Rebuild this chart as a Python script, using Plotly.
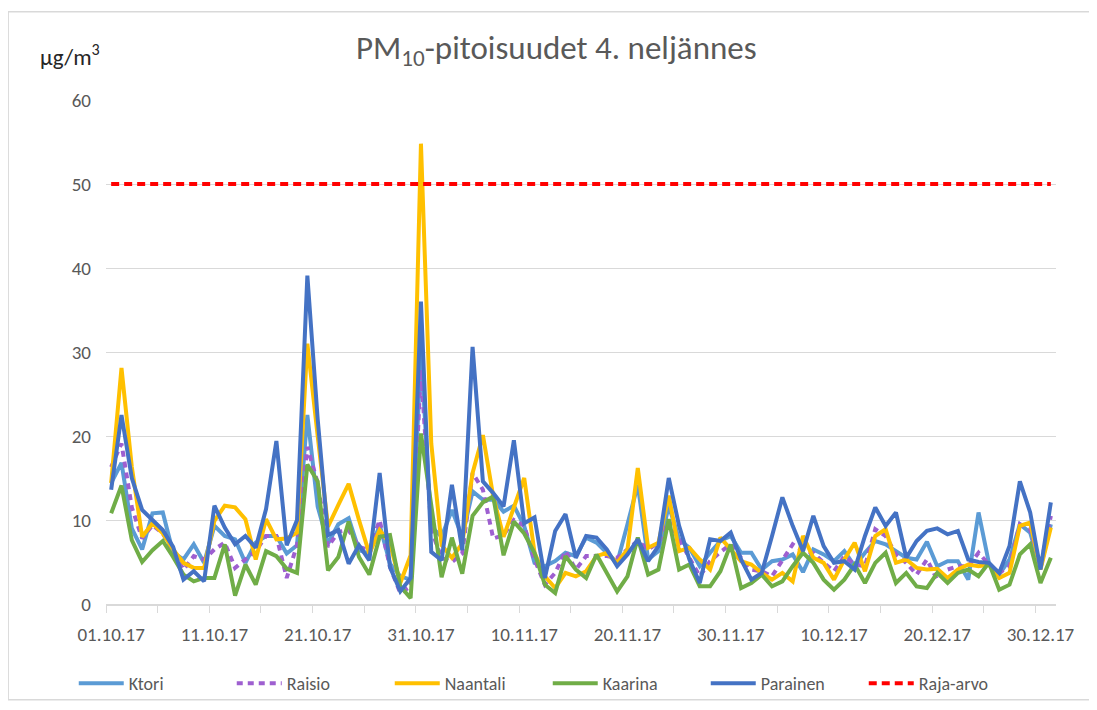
import pandas as pd
import plotly.graph_objects as go

dates = pd.date_range("2017-10-01", "2017-12-31", freq="D")

ktori = [14.4, 16.8, 9.0, 6.5, 10.8, 10.9, 6.1, 5.3, 7.1, 4.9,
         9.3, 8.1, 7.7, 4.9, 7.3, 8.1, 8.1, 6.0, 7.0, 22.5,
         11.6, 7.2, 9.5, 10.2, 6.4, 6.0, 9.4, 4.8, 3.3, 2.9,
         30.0, 9.2, 8.0, 11.2, 8.0, 13.4, 12.4, 12.4, 11.0, 11.7,
         9.3, 4.9, 4.5, 5.1, 6.1, 5.7, 7.9, 7.3, 6.1, 4.9,
         9.5, 14.2, 5.3, 6.3, 11.7, 7.7, 6.7, 4.5, 6.1, 7.5,
         8.1, 6.1, 6.1, 4.1, 5.1, 5.3, 5.9, 3.8, 6.5, 5.9,
         5.1, 6.3, 4.5, 6.1, 7.5, 7.1, 6.3, 5.5, 5.3, 7.4,
         4.5, 5.1, 5.1, 2.9, 10.9, 4.9, 3.5, 5.3, 9.5, 8.5,
         4.3, 9.5]
raisio = [16.3, 19.1, 11.5, 7.8, 9.4, 8.4, 6.3, 4.1, 5.7, 5.3,
          6.5, 7.3, 4.3, 5.3, 6.3, 8.1, 8.1, 3.1, 7.0, 18.7,
          14.4, 6.8, 8.6, 8.8, 6.8, 6.4, 10.0, 4.4, 1.3, 2.1,
          27.9, 8.8, 5.5, 5.0, 6.0, 15.6, 13.6, 7.8, 8.2, 10.0,
          9.3, 5.3, 2.3, 3.7, 6.3, 4.1, 5.7, 5.7, 5.7, 5.5,
          6.5, 7.5, 6.5, 7.3, 9.9, 7.7, 5.5, 3.3, 5.1, 6.2,
          7.1, 5.5, 4.1, 3.9, 3.3, 5.1, 7.1, 6.3, 6.1, 4.9,
          3.9, 5.7, 4.7, 4.5, 8.9, 8.1, 5.9, 4.9, 3.5, 5.3,
          2.9, 4.1, 4.5, 4.5, 6.1, 4.7, 3.7, 4.5, 9.5, 8.9,
          4.5, 10.5]
naantali = [14.4, 28.1, 16.3, 8.0, 9.6, 8.4, 6.5, 4.9, 4.3, 4.3,
            9.9, 11.7, 11.5, 10.1, 5.3, 10.1, 7.7, 7.8, 8.5, 31.0,
            20.0, 9.2, 11.8, 14.3, 10.0, 6.0, 8.8, 7.2, 2.5, 5.8,
            54.8, 19.1, 7.0, 5.5, 7.2, 15.6, 20.1, 12.8, 8.0, 11.6,
            15.0, 6.1, 3.3, 1.9, 3.7, 3.3, 3.9, 5.7, 6.1, 4.9,
            6.5, 16.2, 6.7, 7.3, 12.9, 6.3, 6.7, 5.3, 4.1, 7.9,
            6.5, 5.1, 4.7, 3.7, 2.9, 3.7, 2.7, 8.1, 5.5, 4.9,
            2.9, 5.3, 7.3, 3.9, 8.1, 8.9, 4.9, 5.3, 4.3, 4.1,
            4.2, 3.1, 4.1, 4.7, 4.5, 4.7, 3.1, 3.7, 9.3, 9.7,
            4.1, 9.1]
kaarina = [10.8, 14.1, 7.6, 5.0, 6.4, 7.5, 5.6, 3.5, 2.7, 3.1,
           3.1, 7.1, 1.0, 4.7, 2.3, 6.3, 5.7, 4.2, 3.7, 16.6,
           14.6, 4.0, 5.6, 9.8, 5.6, 3.5, 8.0, 8.2, 2.1, 0.7,
           20.3, 11.6, 3.2, 7.9, 3.6, 10.5, 12.1, 12.8, 5.8, 9.8,
           8.4, 6.1, 2.3, 1.3, 5.7, 4.1, 3.1, 5.9, 3.7, 1.5,
           3.3, 7.9, 3.5, 4.1, 10.1, 4.1, 4.7, 2.1, 2.1, 3.9,
           7.1, 1.9, 2.5, 3.5, 2.1, 2.7, 4.5, 6.1, 4.9, 2.9,
           1.7, 2.9, 4.7, 2.5, 4.9, 6.1, 2.5, 3.7, 2.1, 1.9,
           3.7, 2.5, 3.7, 4.1, 3.3, 4.9, 1.7, 2.3, 5.9, 7.1,
           2.5, 5.5]
parainen = [13.6, 22.5, 15.0, 11.2, 10.0, 8.8, 6.8, 2.9, 3.9, 2.7,
            11.7, 9.1, 7.1, 8.1, 6.7, 11.3, 19.4, 7.0, 10.0, 39.1,
            22.0, 8.2, 8.8, 4.8, 7.0, 5.2, 15.6, 4.4, 1.5, 3.1,
            36.0, 6.2, 5.2, 14.2, 6.4, 30.6, 14.6, 13.2, 11.6, 19.5,
            9.6, 10.3, 3.1, 8.7, 10.7, 5.5, 8.1, 7.9, 6.5, 4.5,
            5.9, 7.7, 5.1, 6.9, 15.0, 9.3, 5.3, 2.5, 7.7, 7.5,
            8.5, 5.3, 2.9, 3.7, 8.1, 12.7, 9.3, 6.3, 10.5, 6.9,
            4.9, 5.1, 4.1, 8.1, 11.5, 9.3, 10.9, 5.5, 7.5, 8.7,
            9.0, 8.3, 8.7, 5.3, 5.0, 4.9, 3.7, 6.9, 14.6, 10.9,
            4.1, 12.1]
raja_arvo = [50] * len(dates)

tick_dates = ["2017-10-01", "2017-10-11", "2017-10-21", "2017-10-31", "2017-11-10",
              "2017-11-20", "2017-11-30", "2017-12-10", "2017-12-20", "2017-12-30"]
tick_labels = ["01.10.17", "11.10.17", "21.10.17", "31.10.17", "10.11.17",
               "20.11.17", "30.11.17", "10.12.17", "20.12.17", "30.12.17"]

FONT = ("Carlito, 'DejaVu Sans Condensed', 'Roboto Condensed', "
        "'Liberation Sans Narrow', 'Arial Narrow', Roboto, sans-serif")
GRAY = "#595959"

series = [
    ("Ktori", ktori, "#5B9BD5", "solid"),
    ("Raisio", raisio, "#9E5FD0", "6px,5px"),
    ("Naantali", naantali, "#FFC000", "solid"),
    ("Kaarina", kaarina, "#70AD47", "solid"),
    ("Parainen", parainen, "#4472C4", "solid"),
]

fig = go.Figure()
for name, vals, color, dash in series:
    fig.add_trace(go.Scatter(x=dates, y=vals, name=name, mode="lines",
                             line=dict(color=color, width=4, dash=dash)))
fig.add_trace(go.Scatter(x=dates, y=raja_arvo, name="Raja-arvo", mode="lines",
                         line=dict(color="#FF0000", width=4, dash="8px,5px")))

fig.update_layout(
    width=1097, height=710,
    margin=dict(l=98, r=49, t=92, b=114),
    paper_bgcolor="white", plot_bgcolor="white",
    font=dict(family=FONT, color=GRAY, size=17),
    showlegend=True,
    legend=dict(orientation="h", x=0.465, xanchor="center", y=-0.158, yanchor="middle",
                font=dict(size=18, color=GRAY), entrywidth=98, entrywidthmode="pixels",
                itemwidth=45, bgcolor="rgba(0,0,0,0)"),
    xaxis=dict(
        type="date",
        range=["2017-09-30 12:00", "2017-12-31 12:00"],
        tickvals=tick_dates, ticktext=tick_labels,
        ticks="", showgrid=False,
        showline=True, linecolor="#D9D9D9", linewidth=1.5,
        tickfont=dict(size=19, color=GRAY),
        ticklabelstandoff=12,
        minor=dict(ticks="outside", tick0="2017-09-30 12:00", dtick=5 * 86400000,
                   ticklen=7, tickcolor="#D9D9D9", tickwidth=1.2, showgrid=False),
    ),
    yaxis=dict(
        range=[0, 60], dtick=10, showgrid=True, gridcolor="#D9D9D9", gridwidth=1.2,
        zeroline=False, ticks="", tickfont=dict(size=19, color=GRAY),
        ticklabelstandoff=14,
    ),
    annotations=[
        dict(text="PM<sub>10</sub>-pitoisuudet 4. neljännes", xref="paper", yref="paper",
             x=0.474, y=1.099, showarrow=False, font=dict(size=33, color=GRAY),
             xanchor="center", yanchor="middle"),
        dict(text="µg/m<sup>3</sup>", xref="paper", yref="paper",
             x=-0.038, y=1.088, showarrow=False, font=dict(size=23, color="#262626"),
             xanchor="center", yanchor="middle"),
    ],
    shapes=[
        dict(type="rect", xref="paper", yref="paper", x0=-0.103, x1=1.036,
             y0=-0.19, y1=1.175, line=dict(color="#D9D9D9", width=1.5),
             fillcolor="rgba(0,0,0,0)", layer="below"),
    ],
)

fig.write_html("out.html")
